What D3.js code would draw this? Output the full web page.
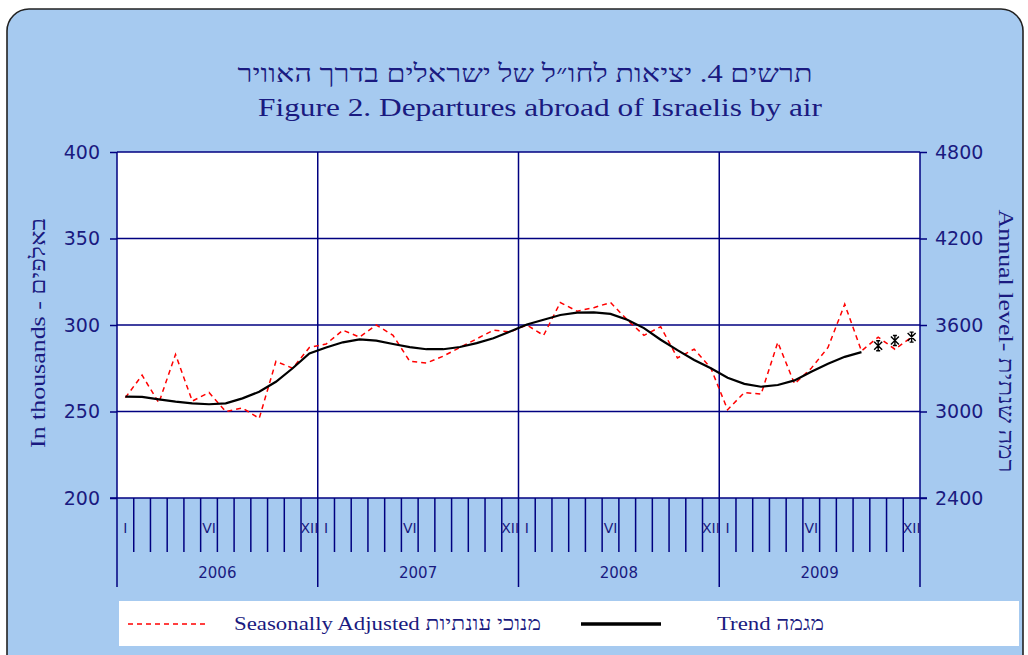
<!DOCTYPE html>
<html>
<head>
<meta charset="utf-8">
<script src="https://cdn.jsdelivr.net/npm/d3@7"></script>
<style>
body { margin: 0; background: #fff; }
</style>
</head>
<body>
<script>
// monthly data, Jan 2006 - Dec 2009 (thousands)
var years = ["2006", "2007", "2008", "2009"];
var monthLabels = ["I", "", "", "", "", "VI", "", "", "", "", "", "XII"];
var seasonal = [
    258, 271, 255, 283, 256, 261, 250, 252, 246, 279, 275, 287,
    289, 297, 293, 300, 294, 279, 278, 282, 287, 292, 297, 296,
    300, 294, 313, 308, 310, 313, 303, 294, 299, 281, 286, 275,
    251, 261, 260, 290, 266, 275, 287, 312, 285, 293, 286, 293
];
var trend = [
    258.6, 258.5, 257, 255.7, 254.7, 254.2, 254.7, 257.6, 261.4, 267.2, 275, 283.6,
    287, 290, 291.7, 291, 289, 287.2, 286, 286, 287.3, 289.5, 292.3, 296.3,
    300.3, 303, 305.8, 307.2, 307.3, 306.4, 303, 298.2, 291.5, 285.5, 279.8, 275,
    269.5, 266, 264.3, 265.3, 268, 273, 277.6, 281.6, 284.3
];
var trendEstimate = [288, 291, 293];   // Oct-Dec 2009, drawn as asterisks
var leftTicks = [200, 250, 300, 350, 400];
var rightTicks = [2400, 3000, 3600, 4200, 4800];

var navy = "#000080", ink = "#1a1a80",
    plot = {left: 117, right: 920, top: 152, bottom: 498};

var x = d3.scaleLinear().domain([0, 48]).range([plot.left, plot.right]),
    y = d3.scaleLinear().domain([200, 400]).range([plot.bottom, plot.top]),
    yR = d3.scaleLinear().domain([2400, 4800]).range([plot.bottom, plot.top]);

var svg = d3.select("body").append("svg")
    .attr("width", 1028)
    .attr("height", 655)
    .style("display", "block");

// panel
svg.append("rect")
    .attr("x", 7).attr("y", 9)
    .attr("width", 1016).attr("height", 700)
    .attr("rx", 22)
    .attr("fill", "#a6caf0")
    .attr("stroke", "#222").attr("stroke-width", 1.6);

svg.append("rect")
    .attr("x", plot.left).attr("y", plot.top)
    .attr("width", plot.right - plot.left).attr("height", plot.bottom - plot.top)
    .attr("fill", "#fff");

// titles
svg.append("text")
    .attr("x", 525).attr("y", 82)
    .attr("text-anchor", "middle")
    .attr("direction", "rtl")
    .attr("font-family", "'Liberation Serif', 'DejaVu Serif', serif")
    .attr("font-size", 25)
    .attr("textLength", 575).attr("lengthAdjust", "spacingAndGlyphs")
    .attr("fill", ink)
    .text("תרשים 4. יציאות לחו״ל של ישראלים בדרך האוויר");

svg.append("text")
    .attr("x", 540).attr("y", 116)
    .attr("text-anchor", "middle")
    .attr("font-family", "'Liberation Serif', 'DejaVu Serif', serif")
    .attr("font-size", 25)
    .attr("textLength", 564).attr("lengthAdjust", "spacingAndGlyphs")
    .attr("fill", ink)
    .text("Figure 2. Departures abroad of Israelis by air");

// horizontal gridlines
svg.append("g").selectAll("line")
    .data(leftTicks.slice(1))
  .enter().append("line")
    .attr("x1", plot.left).attr("x2", plot.right)
    .attr("y1", d => y(d)).attr("y2", d => y(d))
    .attr("stroke", navy).attr("stroke-width", 1.5);

// year separators (full height, down into the label band)
svg.append("g").selectAll("line")
    .data(d3.range(years.length + 1))
  .enter().append("line")
    .attr("x1", k => x(k*12)).attr("x2", k => x(k*12))
    .attr("y1", plot.top).attr("y2", 587)
    .attr("stroke", navy).attr("stroke-width", 1.5);

// month ticks
svg.append("g").selectAll("line")
    .data(d3.range(48).filter(i => i % 12 != 0))
  .enter().append("line")
    .attr("x1", i => x(i)).attr("x2", i => x(i))
    .attr("y1", plot.bottom).attr("y2", 552)
    .attr("stroke", navy).attr("stroke-width", 1.5);

svg.append("line")
    .attr("x1", plot.left - 7).attr("x2", plot.right + 7)
    .attr("y1", plot.bottom).attr("y2", plot.bottom)
    .attr("stroke", navy).attr("stroke-width", 1.5);

// month + year labels
svg.append("g").selectAll("text")
    .data(d3.range(48).filter(i => monthLabels[i % 12]))
  .enter().append("text")
    .attr("x", i => x(i + 0.5)).attr("y", 533)
    .attr("text-anchor", "middle")
    .attr("font-family", "'DejaVu Sans', sans-serif")
    .attr("font-size", 14)
    .attr("fill", ink)
    .text(i => monthLabels[i % 12]);

svg.append("g").selectAll("text")
    .data(years)
  .enter().append("text")
    .attr("x", (d, k) => x(k*12 + 6)).attr("y", 578)
    .attr("text-anchor", "middle")
    .attr("font-family", "'DejaVu Sans', sans-serif")
    .attr("font-size", 15)
    .attr("fill", ink)
    .text(d => d);

// y axes
function styleAxis(g) {
    g.select(".domain").remove();
    g.selectAll(".tick line").attr("stroke", navy).attr("stroke-width", 1.5);
    g.selectAll(".tick text")
        .attr("fill", ink)
        .attr("font-family", "'DejaVu Sans', sans-serif")
        .attr("font-size", 19);
}

svg.append("g")
    .attr("transform", "translate(" + plot.left + ",0)")
    .call(d3.axisLeft(y).tickValues(leftTicks).tickFormat(d3.format("d"))
        .tickSize(7).tickPadding(10).tickSizeOuter(0))
    .call(styleAxis);

svg.append("g")
    .attr("transform", "translate(" + plot.right + ",0)")
    .call(d3.axisRight(yR).tickValues(rightTicks).tickFormat(d3.format("d"))
        .tickSize(7).tickPadding(8).tickSizeOuter(0))
    .call(styleAxis);

svg.append("text")
    .attr("transform", "translate(45,333) rotate(-90)")
    .attr("text-anchor", "middle")
    .attr("font-family", "'Liberation Serif', 'DejaVu Serif', serif")
    .attr("font-size", 21)
    .attr("textLength", 230).attr("lengthAdjust", "spacingAndGlyphs")
    .attr("fill", ink)
    .text("In thousands - באלפים");

svg.append("text")
    .attr("transform", "translate(999,341) rotate(90)")
    .attr("text-anchor", "middle")
    .attr("font-family", "'Liberation Serif', 'DejaVu Serif', serif")
    .attr("font-size", 21)
    .attr("textLength", 263).attr("lengthAdjust", "spacingAndGlyphs")
    .attr("fill", ink)
    .text("Annual level- רמה שנתית");

// series
var line = d3.line()
    .x((d, i) => x(i + 0.5))
    .y(d => y(d));

svg.append("path")
    .datum(seasonal)
    .attr("d", line)
    .attr("fill", "none")
    .attr("stroke", "#ff0000")
    .attr("stroke-width", 1.5)
    .attr("stroke-dasharray", "5,4");

svg.append("path")
    .datum(trend)
    .attr("d", line)
    .attr("fill", "none")
    .attr("stroke", "#000")
    .attr("stroke-width", 2.2);

// asterisk markers: X + vertical stroke with short caps
svg.append("g").selectAll("path")
    .data(trendEstimate)
  .enter().append("path")
    .attr("transform", (d, i) => "translate(" + x(trend.length + i + 0.5) + "," + y(d) + ")")
    .attr("d", "M-4,-4L4,4M-4,4L4,-4M0,-5L0,5M-2,-5L2,-5M-2,5L2,5")
    .attr("fill", "none")
    .attr("stroke", "#000")
    .attr("stroke-width", 1.4);

// legend
var legend = svg.append("g");
legend.append("rect")
    .attr("x", 119).attr("y", 601)
    .attr("width", 900).attr("height", 45)
    .attr("fill", "#fff");

legend.append("line")
    .attr("x1", 128).attr("x2", 207).attr("y1", 624).attr("y2", 624)
    .attr("stroke", "#ff0000").attr("stroke-width", 1.5)
    .attr("stroke-dasharray", "5,4");

legend.append("text")
    .attr("x", 234).attr("y", 630)
    .attr("font-family", "'Liberation Serif', 'DejaVu Serif', serif")
    .attr("font-size", 19)
    .attr("textLength", 307).attr("lengthAdjust", "spacingAndGlyphs")
    .attr("fill", ink)
    .text("Seasonally Adjusted מנוכי עונתיות");

legend.append("line")
    .attr("x1", 581).attr("x2", 661).attr("y1", 624).attr("y2", 624)
    .attr("stroke", "#000").attr("stroke-width", 3.5);

legend.append("text")
    .attr("x", 717).attr("y", 630)
    .attr("font-family", "'Liberation Serif', 'DejaVu Serif', serif")
    .attr("font-size", 19)
    .attr("textLength", 107).attr("lengthAdjust", "spacingAndGlyphs")
    .attr("fill", ink)
    .text("Trend מגמה");
</script>
</body>
</html>
